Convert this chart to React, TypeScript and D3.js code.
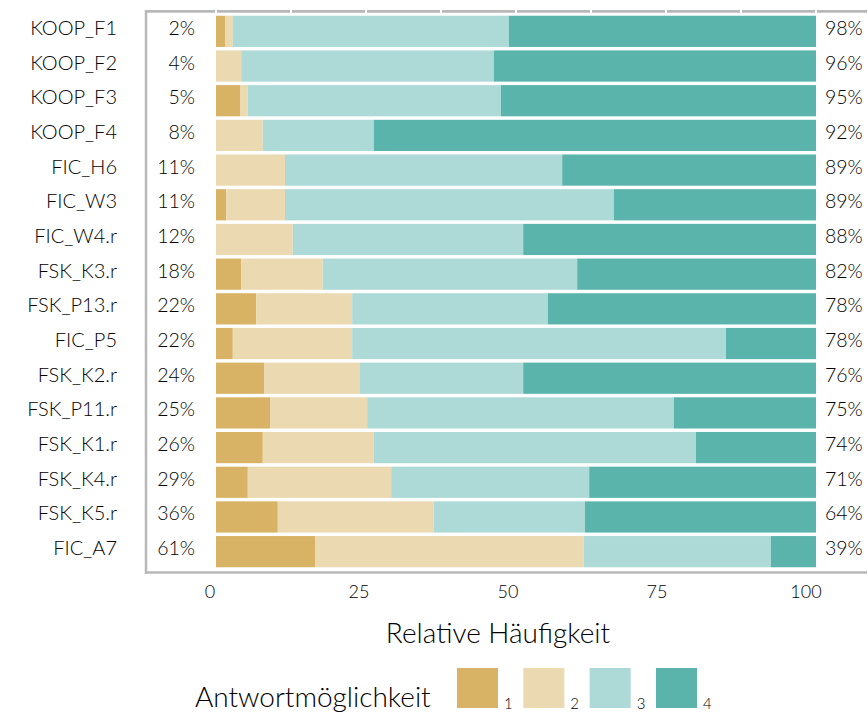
import React from "react";
import * as d3 from "d3";

const categories = ["KOOP_F1","KOOP_F2","KOOP_F3","KOOP_F4","FIC_H6","FIC_W3","FIC_W4.r","FSK_K3.r","FSK_P13.r","FIC_P5","FSK_K2.r","FSK_P11.r","FSK_K1.r","FSK_K4.r","FSK_K5.r","FIC_A7"];
const resp1 = [1.5, 0, 4.0, 0, 0, 1.7, 0, 4.2, 6.7, 2.8, 8.0, 9.0, 7.8, 5.3, 10.3, 16.5];
const resp2 = [1.3, 4.2, 1.3, 7.8, 11.5, 9.8, 12.8, 13.6, 16.0, 19.9, 16.0, 16.2, 18.5, 23.9, 26.0, 44.8];
const resp3 = [46.0, 42.1, 42.2, 18.5, 46.2, 54.8, 38.4, 42.4, 32.6, 62.3, 27.2, 51.1, 53.7, 33.0, 25.2, 31.2];
const resp4 = [51.2, 53.7, 52.5, 73.7, 42.3, 33.7, 48.8, 39.8, 44.7, 15.0, 48.8, 23.7, 20.0, 37.8, 38.5, 7.5];
const lowLabels = ["2%","4%","5%","8%","11%","11%","12%","18%","22%","22%","24%","25%","26%","29%","36%","61%"];
const highLabels = ["98%","96%","95%","92%","89%","89%","88%","82%","78%","78%","76%","75%","74%","71%","64%","39%"];
const levels = ["1","2","3","4"];
const colors = ["#D8B365","#EAD9B1","#ADD9D6","#5BB4AC"];
const xTicks = [0, 25, 50, 75, 100];
const gridValues = [0, 12.5, 25, 37.5, 50, 62.5, 75, 87.5, 100];

const FONT = "Lato, 'Open Sans', sans-serif";
const TEXT = "#000";

export default function App() {
  const W = 868, H = 713;
  const x = d3.scaleLinear().domain([0, 100]).range([216, 816]);
  const xAxis = d3.scaleLinear().domain([0, 100]).range([210, 806]);
  const y = d3.scaleBand<string>().domain(categories).range([14, 569]).paddingInner(0.1).paddingOuter(0.05);
  const series = [resp1, resp2, resp3, resp4];
  const rows = categories.map((c, i) => {
    let acc = 0;
    return series.map((s, k) => {
      const v0 = acc;
      acc += s[i];
      return { cat: c, k, v0, v1: acc };
    });
  });
  const border = "#b8b8b8";
  const legendX = d3.scalePoint<string>().domain(levels).range([457, 656]);
  const cy = (c: string) => (y(c) as number) + y.bandwidth() / 2 + 3.5;

  return (
    <svg width={W} height={H} style={{ position: "absolute", left: 0, top: 0, background: "#fff" }}>
      <line x1={145} x2={867} y1={11.3} y2={11.3} stroke={border} strokeWidth={2.7} />
      <line x1={146} x2={146} y1={10} y2={574} stroke={border} strokeWidth={2.5} />
      <line x1={145} x2={867} y1={572.5} y2={572.5} stroke={border} strokeWidth={2.7} />
      {gridValues.map((g) => (
        <line key={g} x1={x(g)} x2={x(g)} y1={8} y2={568} stroke="#fff" strokeWidth={2} />
      ))}
      {rows.map((segs) =>
        segs.filter((s) => s.v1 > s.v0).map((s) => (
          <rect key={s.cat + s.k} x={x(s.v0)} y={y(s.cat)} width={x(s.v1) - x(s.v0)} height={y.bandwidth()} fill={colors[s.k]} />
        ))
      )}
      {categories.map((c) => (
        <text key={c} x={117} y={cy(c)} textAnchor="end" fontFamily={FONT} fontWeight={300} fontSize={20} fill={TEXT}>{c}</text>
      ))}
      {categories.map((c, i) => (
        <text key={"l" + c} x={195} y={cy(c)} textAnchor="end" fontFamily={FONT} fontWeight={300} fontSize={19.5} fill={TEXT}>{lowLabels[i]}</text>
      ))}
      {categories.map((c, i) => (
        <text key={"h" + c} x={825} y={cy(c)} textAnchor="start" fontFamily={FONT} fontWeight={300} fontSize={19.5} fill={TEXT}>{highLabels[i]}</text>
      ))}
      {xTicks.map((t) => (
        <text key={t} x={xAxis(t)} y={598} textAnchor="middle" fontFamily={FONT} fontWeight={300} fontSize={18} fill={TEXT}>{t}</text>
      ))}
      <text x={498} y={643} textAnchor="middle" fontFamily={FONT} fontWeight={300} fontSize={28} fill={TEXT}>Relative Häufigkeit</text>
      <text x={195} y={707} fontFamily={FONT} fontWeight={300} fontSize={28} fill={TEXT}>Antwortmöglichkeit</text>
      {levels.map((l, i) => (
        <g key={l}>
          <rect x={legendX(l)} y={668} width={41} height={40} fill={colors[i]} />
          <text x={(legendX(l) as number) + 47} y={709} fontFamily={FONT} fontWeight={300} fontSize={15} fill={TEXT}>{l}</text>
        </g>
      ))}
    </svg>
  );
}
